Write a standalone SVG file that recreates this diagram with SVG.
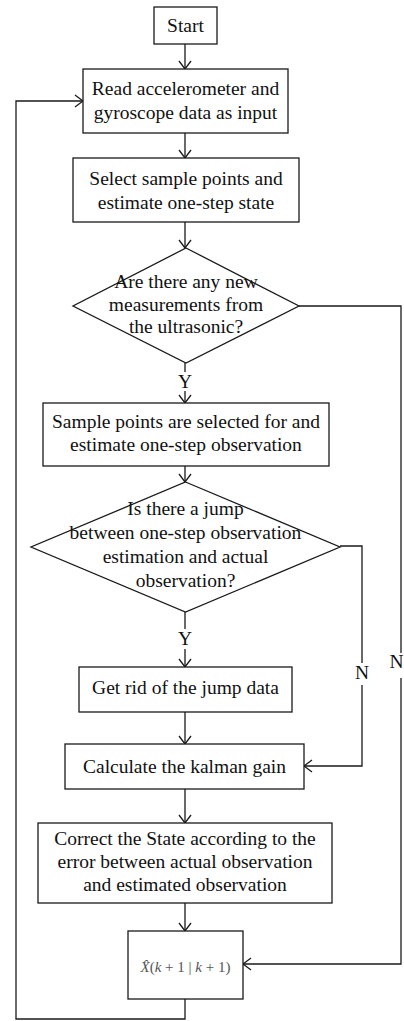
<svg xmlns="http://www.w3.org/2000/svg" width="404" height="1021" viewBox="0 0 404 1021">
<style>
.box{fill:#fff;stroke:#1a1a1a;stroke-width:1.3}
.t{font-family:"Liberation Serif","Times New Roman",serif;font-size:19.5px;fill:#111;text-anchor:middle}
.c{fill:none;stroke:#1a1a1a;stroke-width:1.3}
.f{font-family:"Liberation Serif","Times New Roman",serif;font-size:15px;fill:#555;text-anchor:middle}
</style>
<defs>
<marker id="arr" viewBox="0 0 10 14" refX="9" refY="7" markerWidth="10" markerHeight="14" orient="auto" markerUnits="userSpaceOnUse">
<path d="M1,1 L9,7 L1,13" fill="none" stroke="#1a1a1a" stroke-width="1.3"/>
</marker>
</defs>
<rect width="404" height="1021" fill="#fff"/>
<g id="connectors">
<path class="c" d="M185,44 V69" marker-end="url(#arr)"/>
<path class="c" d="M185,133 V158" marker-end="url(#arr)"/>
<path class="c" d="M185,222 V248" marker-end="url(#arr)"/>
<path class="c" d="M185,363 V372"/>
<path class="c" d="M185,391 V403" marker-end="url(#arr)"/>
<path class="c" d="M185,466 V482" marker-end="url(#arr)"/>
<path class="c" d="M185,612 V629"/>
<path class="c" d="M185,649 V667" marker-end="url(#arr)"/>
<path class="c" d="M185,712 V744" marker-end="url(#arr)"/>
<path class="c" d="M185,789 V823" marker-end="url(#arr)"/>
<path class="c" d="M185,903 V931" marker-end="url(#arr)"/>
<path class="c" d="M299,306 H401 V653"/>
<path class="c" d="M401,678 V964 H243" marker-end="url(#arr)"/>
<path class="c" d="M340,546 H362 V663"/>
<path class="c" d="M362,685 V766 H304" marker-end="url(#arr)"/>
<path class="c" d="M185,999 V1019 H16 V101 H83" marker-end="url(#arr)"/>
<text class="t" x="185" y="388">Y</text>
<text class="t" x="185" y="645">Y</text>
<text class="t" x="362" y="679">N</text>
<text class="t" x="403.5" y="668" style="text-anchor:end">N</text>
</g>
<g id="start">
<rect class="box" x="154" y="7" width="63" height="37"/>
<text class="t" x="185.5" y="32">Start</text>
</g>
<g id="read">
<rect class="box" x="83" y="69" width="205" height="64"/>
<text class="t" x="185.5" y="95">Read accelerometer and</text>
<text class="t" x="185.5" y="119">gyroscope data as input</text>
</g>
<g id="select">
<rect class="box" x="73" y="158" width="226" height="64"/>
<text class="t" x="186" y="185">Select sample points and</text>
<text class="t" x="186" y="209">estimate one-step state</text>
</g>
<g id="decision1">
<polygon class="box" points="186,248 299,306 186,363 73,306"/>
<text class="t" x="186" y="288">Are there any new</text>
<text class="t" x="186" y="311">measurements from</text>
<text class="t" x="186" y="333">the ultrasonic?</text>
</g>
<g id="sample">
<rect class="box" x="43" y="403" width="286" height="63"/>
<text class="t" x="186" y="428">Sample points are selected for and</text>
<text class="t" x="186" y="451">estimate one-step observation</text>
</g>
<g id="decision2">
<polygon class="box" points="185.5,482 340,547 185.5,612 31,547"/>
<text class="t" x="185.5" y="515">Is there a jump</text>
<text class="t" x="185.5" y="539">between one-step observation</text>
<text class="t" x="185.5" y="563">estimation and actual</text>
<text class="t" x="185.5" y="587">observation?</text>
</g>
<g id="rid">
<rect class="box" x="79" y="667" width="213" height="45"/>
<text class="t" x="185.5" y="694">Get rid of the jump data</text>
</g>
<g id="gain">
<rect class="box" x="65" y="744" width="239" height="45"/>
<text class="t" x="184.5" y="773">Calculate the kalman gain</text>
</g>
<g id="correct">
<rect class="box" x="38" y="823" width="294" height="80"/>
<text class="t" x="185" y="845">Correct the State according to the</text>
<text class="t" x="185" y="868">error between actual observation</text>
<text class="t" x="185" y="891">and estimated observation</text>
</g>
<g id="result">
<rect class="box" x="128" y="931" width="115" height="68"/>
<text class="f" x="185.5" y="972"><tspan font-style="italic">X̂</tspan>(<tspan font-style="italic">k</tspan> + 1 | <tspan font-style="italic">k</tspan> + 1)</text>
</g>
</svg>
